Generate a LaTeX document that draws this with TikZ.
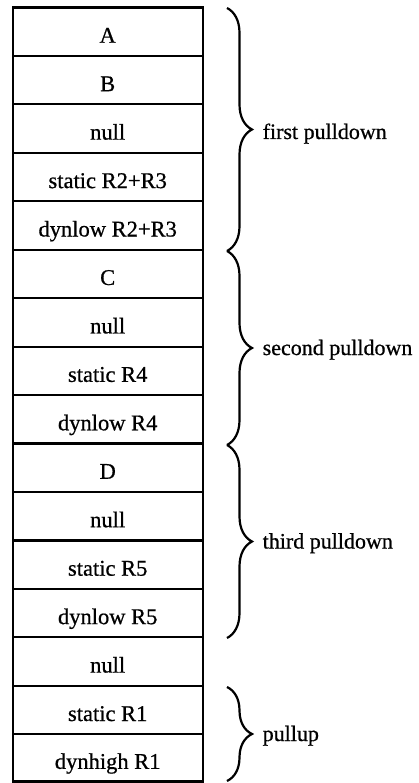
\documentclass[tikz,border=0pt]{standalone}
\usepackage{fontspec}
\setmainfont{Liberation Serif}
\newfontfamily\scanfont{Liberation Serif}[FakeBold=0.7]
\usetikzlibrary{decorations.pathreplacing}
\begin{document}
\begin{tikzpicture}[x=1pt,y=-1pt,
  cell/.style={draw, line width=2.2pt, minimum width=190pt, minimum height=48.45pt,
    inner sep=0pt, text height=22pt, text depth=0pt, font=\scanfont\fontsize{22.5}{24}\selectfont},
  brc/.style={decorate, decoration={brace, amplitude=25pt}, line width=2.2pt},
  lbl/.style={anchor=base west, inner sep=0pt, font=\scanfont\fontsize{22}{24}\selectfont}]
\useasboundingbox (0,0) rectangle (418,783);
\node[cell] (r1)  at (107.7, 31.725) {A};
\node[cell] (r2)  at (107.7, 80.175) {B};
\node[cell] (r3)  at (107.7,128.625) {null};
\node[cell] (r4)  at (107.7,177.075) {static R2+R3};
\node[cell] (r5)  at (107.7,225.525) {dynlow R2+R3};
\node[cell] (r6)  at (107.7,273.975) {C};
\node[cell] (r7)  at (107.7,322.425) {null};
\node[cell] (r8)  at (107.7,370.875) {static R4};
\node[cell] (r9)  at (107.7,419.325) {dynlow R4};
\node[cell] (r10) at (107.7,467.775) {D};
\node[cell] (r11) at (107.7,516.225) {null};
\node[cell] (r12) at (107.7,564.675) {static R5};
\node[cell] (r13) at (107.7,613.125) {dynlow R5};
\node[cell] (r14) at (107.7,661.575) {null};
\node[cell] (r15) at (107.7,710.025) {static R1};
\node[cell, minimum height=47.25pt] (r16) at (107.7,757.875) {dynhigh R1};
% brace end points
\coordinate (b1a) at (227,8);
\coordinate (b1b) at (227,251);
\coordinate (b2a) at (227,251);
\coordinate (b2b) at (227,445);
\coordinate (b3a) at (227,445);
\coordinate (b3b) at (227,638);
\coordinate (b4a) at (227,687);
\coordinate (b4b) at (227,781);
\draw[brc] (b1a) -- (b1b);
\draw[brc] (b2a) -- (b2b);
\draw[brc] (b3a) -- (b3b);
\draw[brc] (b4a) -- (b4b);
\node[lbl] (l1) at (262.5,139) {first pulldown};
\node[lbl] (l2) at (262.5,355) {second pulldown};
\node[lbl] (l3) at (262.5,548.5) {third pulldown};
\node[lbl] (l4) at (262.5,741) {pullup};
\end{tikzpicture}
\end{document}
